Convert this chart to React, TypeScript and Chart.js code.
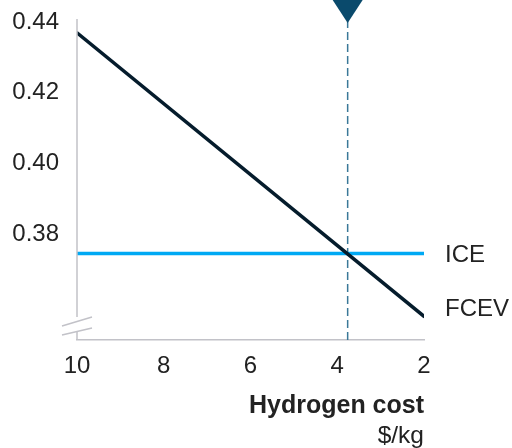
import React, { useEffect, useRef } from 'react';
import { Chart, registerables } from 'chart.js';
Chart.register(...registerables);

const hydrogenCost = [10, 2];
const fcevValues = [0.437, 0.3567];
const iceValues = [0.3745, 0.3745];
const xTicks = [10, 8, 6, 4, 2];
const yTicks = [0.38, 0.4, 0.42, 0.44];
const yMin = 0.35;
const yMax = 0.4409;
const breakevenCost = 3.76;
const seriesNames = ['FCEV', 'ICE'];
const axisTitle = 'Hydrogen cost';
const axisUnit = '$/kg';

const FONT = '"Liberation Sans", Arial, Helvetica, sans-serif';
const TEXT = '#222222';
const AXIS = '#c2c2c8';
const NAVY = '#051c2c';
const CYAN = '#00a9f4';
const MARK = '#0a4a6c';

const overlay = {
  id: 'overlay',
  afterDraw(chart: any) {
    const ctx = chart.ctx;
    const xs = chart.scales.x;
    const left = chart.chartArea.left;
    const top = chart.chartArea.top;
    const bottom = chart.chartArea.bottom;
    ctx.save();
    // y axis with break
    ctx.strokeStyle = AXIS;
    ctx.lineWidth = 1.5;
    ctx.beginPath();
    ctx.moveTo(left, top);
    ctx.lineTo(left, bottom - 23);
    ctx.moveTo(left, bottom - 8);
    ctx.lineTo(left, bottom);
    ctx.stroke();
    ctx.beginPath();
    ctx.moveTo(left - 15, bottom - 14);
    ctx.lineTo(left + 15, bottom - 23);
    ctx.moveTo(left - 15, bottom - 5);
    ctx.lineTo(left + 15, bottom - 12);
    ctx.stroke();
    // triangle marker
    const px = xs.getPixelForValue(breakevenCost);
    ctx.fillStyle = MARK;
    ctx.beginPath();
    ctx.moveTo(px - 15, 0);
    ctx.lineTo(px + 15, 0);
    ctx.lineTo(px, 23);
    ctx.closePath();
    ctx.fill();
    // series labels
    ctx.fillStyle = TEXT;
    ctx.font = `24px ${FONT}`;
    ctx.textAlign = 'left';
    ctx.textBaseline = 'middle';
    [0, 1].forEach((i) => {
      const meta = chart.getDatasetMeta(i);
      const pt = meta.data[meta.data.length - 1];
      const dy = i === 0 ? -7 : 2;
      ctx.fillText(seriesNames[i], pt.x + 21, pt.y + dy);
    });
    // axis title
    ctx.textAlign = 'right';
    ctx.textBaseline = 'alphabetic';
    ctx.font = `bold 25px ${FONT}`;
    ctx.fillText(axisTitle, xs.right, 413);
    ctx.font = `24.5px ${FONT}`;
    ctx.fillText(axisUnit, xs.right, 443);
    ctx.restore();
  },
};

export default function App() {
  const ref = useRef<HTMLCanvasElement>(null);
  useEffect(() => {
    const chart = new Chart(ref.current as HTMLCanvasElement, {
      type: 'line',
      data: {
        datasets: [
          {
            label: seriesNames[0],
            data: hydrogenCost.map((x, i) => ({ x, y: fcevValues[i] })),
            borderColor: NAVY,
            borderWidth: 3.5,
            pointRadius: 0,
            borderCapStyle: 'round',
          },
          {
            label: seriesNames[1],
            data: hydrogenCost.map((x, i) => ({ x, y: iceValues[i] })),
            borderColor: CYAN,
            borderWidth: 3.5,
            pointRadius: 0,
          },
          {
            label: 'breakeven',
            data: [
              { x: breakevenCost, y: yMin },
              { x: breakevenCost, y: yMax },
            ],
            borderColor: '#3a7898',
            borderWidth: 1.5,
            borderDash: [8, 4],
            pointRadius: 0,
          },
        ],
      },
      options: {
        responsive: false,
        animation: false,
        layout: { padding: { top: 19, right: 88, left: 0, bottom: 0 } },
        plugins: { legend: { display: false }, tooltip: { enabled: false } },
        scales: {
          x: {
            type: 'linear',
            reverse: true,
            min: 2,
            max: 10,
            afterBuildTicks: (s: any) => {
              s.ticks = xTicks.map((v) => ({ value: v }));
            },
            afterFit: (s: any) => {
              s.height = 108;
              s.paddingLeft = 0;
              s.paddingRight = 0;
            },
            grid: { display: false, drawTicks: false },
            border: { display: true, color: AXIS, width: 1.5 },
            ticks: {
              padding: 12,
              color: TEXT,
              font: { family: FONT, size: 24 },
              maxRotation: 0,
              autoSkip: false,
            },
          },
          y: {
            type: 'linear',
            min: yMin,
            max: yMax,
            afterBuildTicks: (s: any) => {
              s.ticks = yTicks.map((v) => ({ value: v }));
            },
            afterFit: (s: any) => {
              s.width = 77;
              s.paddingTop = 0;
              s.paddingBottom = 0;
            },
            grid: { display: false, drawTicks: false },
            border: { display: false },
            ticks: {
              padding: 18,
              color: TEXT,
              font: { family: FONT, size: 24 },
              callback: (v: any) => Number(v).toFixed(2),
            },
          },
        },
      },
      plugins: [overlay],
    } as any);
    return () => chart.destroy();
  }, []);
  return (
    <div style={{ position: 'fixed', left: 0, top: 0, width: 512, height: 448, background: '#fff' }}>
      <canvas ref={ref} width={512} height={448} />
    </div>
  );
}
